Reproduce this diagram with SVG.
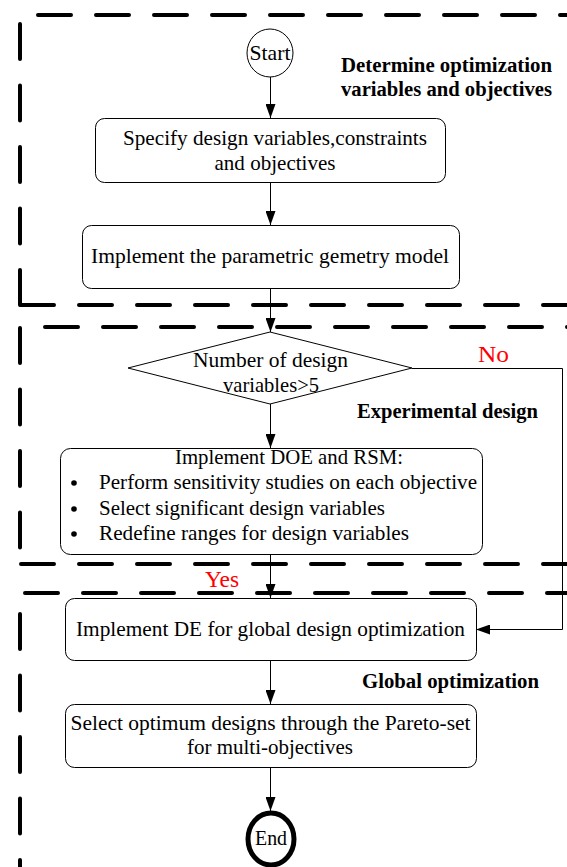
<svg xmlns="http://www.w3.org/2000/svg" width="567" height="867" viewBox="0 0 567 867">
  <defs>
    <marker id="arrow" viewBox="0 0 14 10" refX="14" refY="5" markerWidth="14" markerHeight="10" markerUnits="userSpaceOnUse" orient="auto">
      <path d="M0,0 L14,5 L0,10 Z" fill="#000"/>
    </marker>
    <style>
      .hdash { fill: none; stroke: #000; stroke-width: 4; stroke-linecap: round; stroke-dasharray: 33 25; }
      .vdash { fill: none; stroke: #000; stroke-width: 4; stroke-linecap: round; stroke-dasharray: 35 26.5; }
      .box { fill: #fff; stroke: #000; stroke-width: 1; }
      .link { fill: none; stroke: #000; stroke-width: 1; marker-end: url(#arrow); }
      text { font-family: "Liberation Serif", "Times New Roman", serif; }
      .t { font-size: 21px; fill: #000; }
      .c { text-anchor: middle; }
      .h { font-size: 20px; font-weight: bold; fill: #000; }
      .red { font-size: 24px; fill: #ff0000; }
    </style>
  </defs>

  <!-- stage frames (dashed) -->
  <g id="frames">
    <line class="hdash" x1="38" y1="15" x2="600" y2="15"/>
    <line class="vdash" x1="20" y1="24" x2="20" y2="305"/>
    <line class="hdash" x1="21" y1="305" x2="600" y2="305"/>

    <line class="hdash" x1="45" y1="327" x2="600" y2="327"/>
    <line class="vdash" x1="20" y1="328" x2="20" y2="560"/>
    <line class="hdash" x1="21" y1="564" x2="600" y2="564"/>

    <line class="hdash" x1="25" y1="593" x2="600" y2="593"/>
    <line class="vdash" x1="20" y1="614" x2="20" y2="900"/>
  </g>

  <!-- stage titles -->
  <g id="titles">
    <text class="h" x="341" y="72" textLength="211" lengthAdjust="spacingAndGlyphs">Determine optimization</text>
    <text class="h" x="341" y="96" textLength="211" lengthAdjust="spacingAndGlyphs">variables and objectives</text>
    <text class="h" x="357" y="418" textLength="181" lengthAdjust="spacingAndGlyphs">Experimental design</text>
    <text class="h" x="362" y="688" textLength="177" lengthAdjust="spacingAndGlyphs">Global optimization</text>
  </g>

  <!-- connectors -->
  <g id="connectors">
    <line class="link" x1="270.5" y1="77" x2="270.5" y2="118"/>
    <line class="link" x1="270.5" y1="182" x2="270.5" y2="225"/>
    <line class="link" x1="270.5" y1="288" x2="270.5" y2="332"/>
    <line class="link" x1="270.5" y1="404" x2="270.5" y2="448"/>
    <line class="link" x1="270.5" y1="554" x2="270.5" y2="598"/>
    <line class="link" x1="270.5" y1="660" x2="270.5" y2="704"/>
    <line class="link" x1="270.5" y1="767" x2="270.5" y2="811"/>
    <polyline class="link" points="412,368.5 562.5,368.5 562.5,629.5 476,629.5"/>
    <text class="red" x="478" y="362" textLength="31" lengthAdjust="spacingAndGlyphs">No</text>
    <text class="red" x="205" y="587" textLength="34" lengthAdjust="spacingAndGlyphs">Yes</text>
  </g>

  <g id="start">
    <ellipse class="box" cx="270" cy="53" rx="23" ry="24"/>
    <text class="t c" x="270" y="60" textLength="41" lengthAdjust="spacingAndGlyphs">Start</text>
  </g>

  <g id="specify">
    <rect class="box" x="95.5" y="118.5" width="350" height="64" rx="9"/>
    <text class="t c" x="275" y="145" textLength="304" lengthAdjust="spacingAndGlyphs">Specify design variables,constraints</text>
    <text class="t c" x="275" y="170" textLength="121" lengthAdjust="spacingAndGlyphs">and objectives</text>
  </g>

  <g id="geometry">
    <rect class="box" x="82.5" y="225.5" width="377" height="63" rx="9"/>
    <text class="t c" x="270" y="263" textLength="358" lengthAdjust="spacingAndGlyphs">Implement the parametric gemetry model</text>
  </g>

  <g id="decision">
    <polygon class="box" points="270,332 412,368 270,404 128,368"/>
    <text class="t c" x="270.5" y="367" textLength="155" lengthAdjust="spacingAndGlyphs">Number of design</text>
    <text class="t c" x="271" y="392" textLength="96" lengthAdjust="spacingAndGlyphs">variables&gt;5</text>
  </g>

  <g id="doe">
    <rect class="box" x="60.5" y="448.5" width="422" height="106" rx="10"/>
    <text class="t c" x="289" y="464" textLength="228" lengthAdjust="spacingAndGlyphs">Implement DOE and RSM:</text>
    <circle cx="74" cy="483" r="2.8" fill="#000"/>
    <circle cx="74" cy="509" r="2.8" fill="#000"/>
    <circle cx="74" cy="534" r="2.8" fill="#000"/>
    <text class="t" x="99" y="489" textLength="378" lengthAdjust="spacingAndGlyphs">Perform sensitivity studies on each objective</text>
    <text class="t" x="99" y="515" textLength="286" lengthAdjust="spacingAndGlyphs">Select significant design variables</text>
    <text class="t" x="99" y="540" textLength="310" lengthAdjust="spacingAndGlyphs">Redefine ranges for design variables</text>
  </g>

  <g id="de">
    <rect class="box" x="65.5" y="598.5" width="411" height="62" rx="9"/>
    <text class="t c" x="270.5" y="636" textLength="389" lengthAdjust="spacingAndGlyphs">Implement DE for global design optimization</text>
  </g>

  <g id="pareto">
    <rect class="box" x="65.5" y="704.5" width="411" height="63" rx="9"/>
    <text class="t c" x="270.5" y="730" textLength="400" lengthAdjust="spacingAndGlyphs">Select optimum designs through the Pareto-set</text>
    <text class="t c" x="270" y="754" textLength="166" lengthAdjust="spacingAndGlyphs">for multi-objectives</text>
  </g>

  <g id="end">
    <ellipse cx="271" cy="839" rx="23" ry="26" fill="#fff" stroke="#000" stroke-width="5"/>
    <text class="t c" x="271" y="845" textLength="32" lengthAdjust="spacingAndGlyphs">End</text>
  </g>
</svg>
